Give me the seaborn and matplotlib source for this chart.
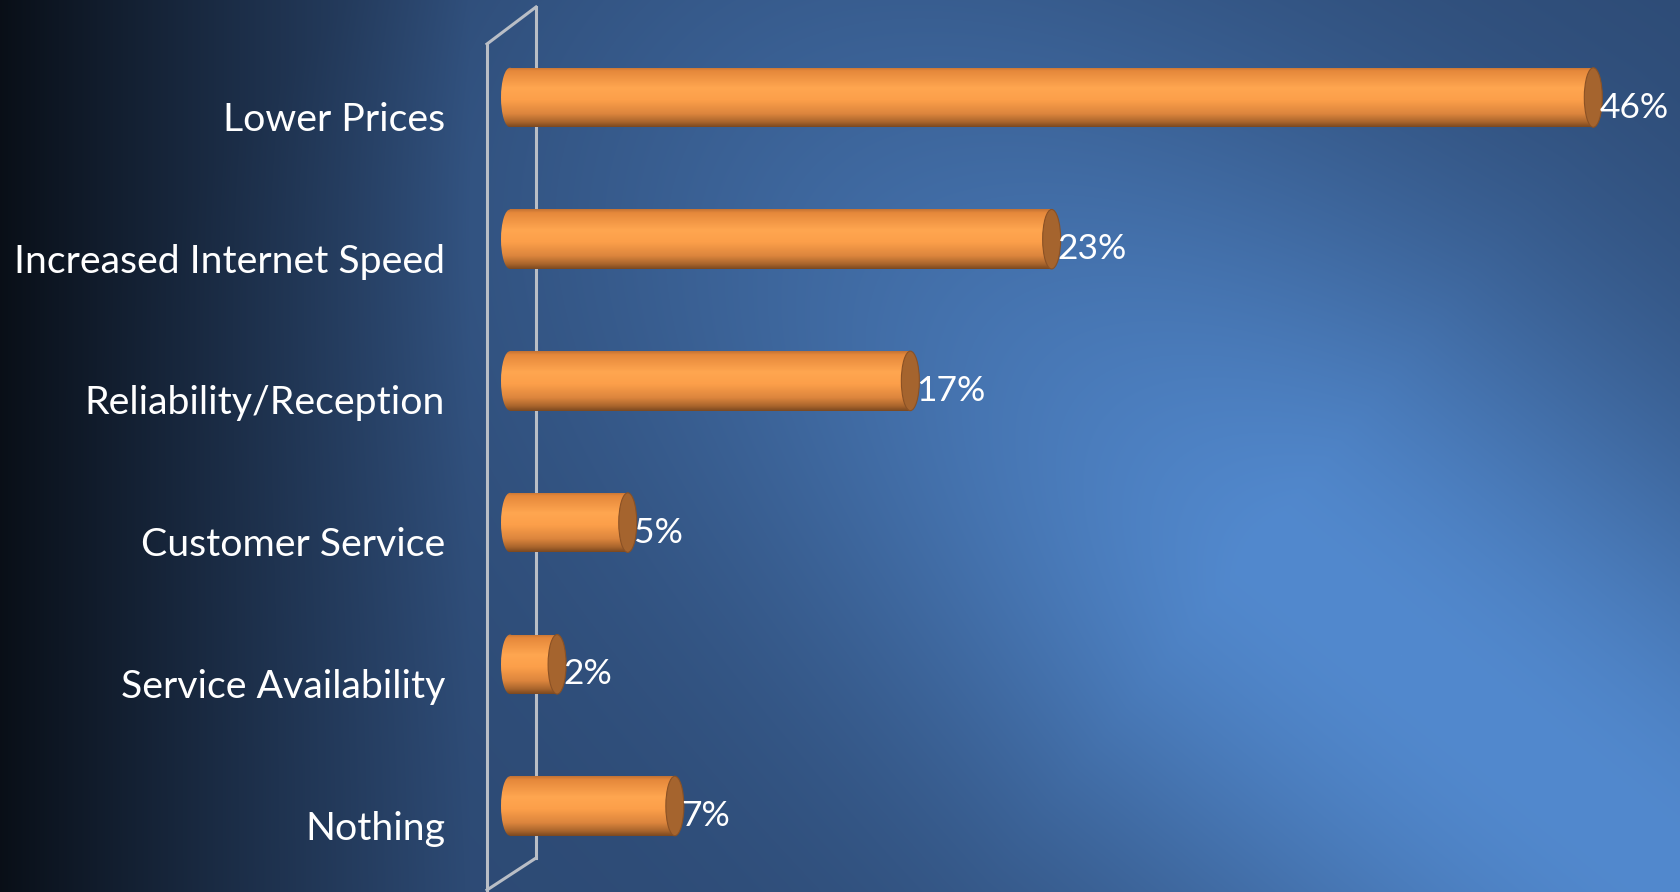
import numpy as np
import pandas as pd
import matplotlib
matplotlib.use("Agg")
import matplotlib.pyplot as plt
import seaborn as sns
from matplotlib.colors import LinearSegmentedColormap
from matplotlib.patches import Ellipse
from matplotlib.transforms import ScaledTranslation

# Survey results: what would most improve the service
categories = ["Lower Prices", "Increased Internet Speed", "Reliability/Reception",
              "Customer Service", "Service Availability", "Nothing"]
values = [46, 23, 17, 5, 2, 7]
value_labels = [f"{v}%" for v in values]

plt.rcParams["font.family"] = ["Lato", "DejaVu Sans"]

W, H = 1681, 892
fig = plt.figure(figsize=(W / 100, H / 100), dpi=100)

# ---- background: dark left edge, diagonal band of lighter blue ----
bg = fig.add_axes([0, 0, 1, 1], zorder=0)
bg.set_axis_off()
yy, xx = np.mgrid[0:H, 0:W].astype(float)
dx, dy = xx - 620.0, yy - 30.0
u = dx * 0.781 + dy * 0.625
v = -dx * 0.625 + dy * 0.781
glow = np.clip(0.22 + u / 1050.0, 0, 1) * np.exp(-(v / 380.0) ** 2)
base = np.array([45, 74, 116]) / 255.0
light = np.array([82, 137, 206]) / 255.0
img = base + glow[..., None] * (light - base)
shade = np.clip(0.2 + 0.8 * (xx / 470.0) ** 0.95, 0, 1)
img = np.clip(img * shade[..., None], 0, 1)
bg.imshow(img, extent=(0, W, H, 0), aspect="auto", interpolation="bilinear")
bg.set_xlim(0, W)
bg.set_ylim(H, 0)

# ---- main axes ----
x_zero_px, px_per_unit = 510.0, 23.55
ax_left_px = 487.0
ax = fig.add_axes([ax_left_px / W, 0, 1 - ax_left_px / W, 1], zorder=1)
ax.patch.set_alpha(0)

df = pd.DataFrame({"category": categories, "value": values})
sns.barplot(data=df, x="value", y="category", orient="h", color="#f7963e",
            saturation=1, width=0.42, ax=ax)

xlim = ((ax_left_px - x_zero_px) / px_per_unit, (W - x_zero_px) / px_per_unit)
ylim = ((H - 97.5) / 141.7, -97.5 / 141.7)

# side wall of the 3D plot area
wall = dict(color="#b9bec6", lw=2.2, transform=fig.transFigure, clip_on=False, zorder=0.5)
ax.plot([487 / W, 487 / W], [1 - 44 / H, 1 - 890 / H], **wall)
ax.plot([536 / W, 536 / W], [1 - 7 / H, 1 - 858 / H], **wall)
ax.plot([487 / W, 536 / W], [1 - 44 / H, 1 - 7 / H], **wall)
ax.plot([487 / W, 536 / W], [1 - 890 / H, 1 - 858 / H], **wall)

# cylinder shading
cyl = LinearSegmentedColormap.from_list("cyl", [
    (0.00, "#c27234"), (0.06, "#e5883b"), (0.35, "#ffa650"), (0.55, "#fc9f4a"),
    (0.78, "#dc853d"), (0.92, "#a8642c"), (1.00, "#7a4820")])
grad = np.linspace(0, 1, 256)[:, None]
ew = 18.0 / px_per_unit

for bar, val in zip(ax.patches, values):
    y0, h = bar.get_y(), bar.get_height()
    yc = y0 + h / 2
    cap = Ellipse((0, yc), ew, h, facecolor="none", edgecolor="none")
    ax.add_patch(cap)
    for clip in (bar, cap):
        im = ax.imshow(grad, cmap=cyl, extent=(-ew / 2, val, yc + h / 2, yc - h / 2),
                       origin="upper", aspect="auto", zorder=2, interpolation="bilinear")
        im.set_clip_path(clip)
    ax.add_patch(Ellipse((val, yc), ew, h, facecolor="#a5642e",
                         edgecolor="#8a5125", lw=0.8, zorder=3))

for i, (val, lab) in enumerate(zip(values, value_labels)):
    ax.annotate(lab, xy=(val, i), xytext=(6, -10), textcoords="offset pixels",
                color="white", fontsize=25.5, ha="left", va="center", zorder=4)

ax.set_xlim(*xlim)
ax.set_ylim(*ylim)
ax.set_xlabel("")
ax.set_ylabel("")
ax.set_xticks([])
for s in ax.spines.values():
    s.set_visible(False)
ax.tick_params(axis="y", length=0, pad=42 * 0.72, labelsize=28.3, labelcolor="white")
for t in ax.get_yticklabels():
    t.set_transform(t.get_transform() + ScaledTranslation(0, -19 / 100, fig.dpi_scale_trans))

fig.savefig("out.png", dpi=100)
